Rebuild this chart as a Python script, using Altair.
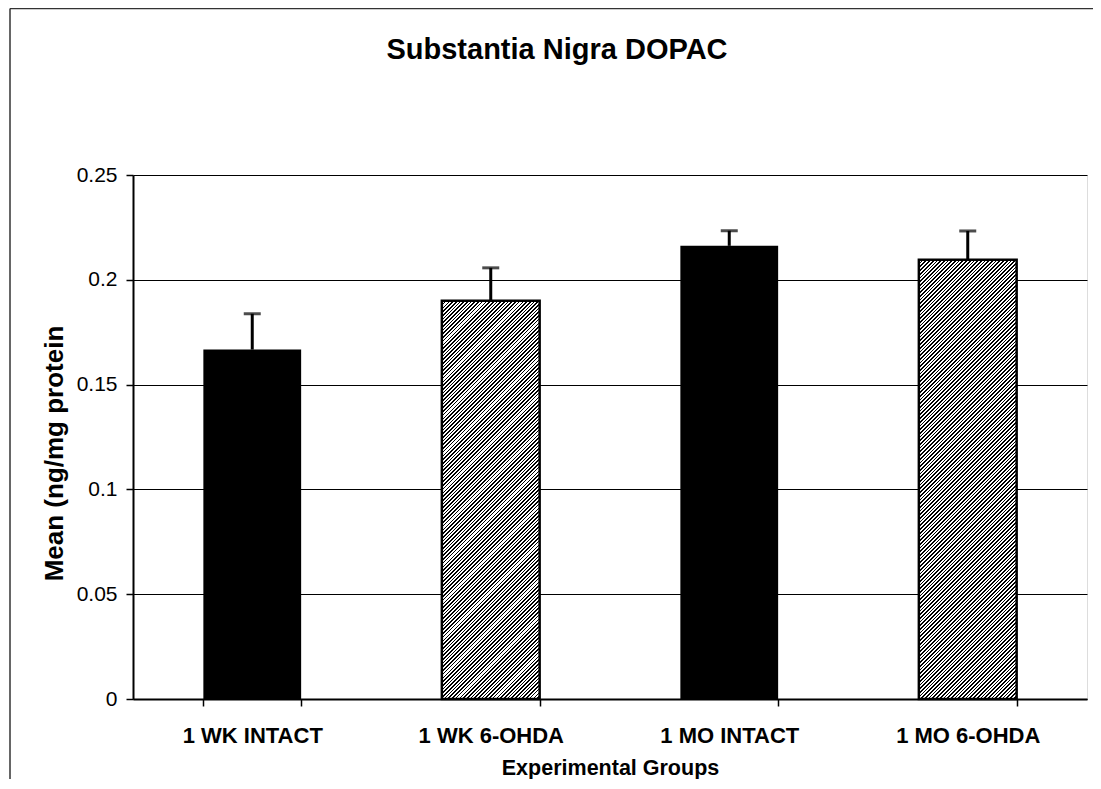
import math
import altair as alt
import pandas as pd

# ---- data ----
groups = ["1 WK INTACT", "1 WK 6-OHDA", "1 MO INTACT", "1 MO 6-OHDA"]
treatment = ["INTACT", "6-OHDA", "INTACT", "6-OHDA"]
means = [0.1667, 0.1900, 0.2162, 0.2096]
upper = [0.1838, 0.2057, 0.2234, 0.2233]
y_ticks = [0, 0.05, 0.1, 0.15, 0.2, 0.25]

df = pd.DataFrame({"group": groups, "treatment": treatment, "mean": means, "upper": upper})

# ---- layout ----
W, H = 954, 524
Y_MAX = 0.25
PAD_INNER = 0.59
FONT = "Liberation Sans"
band_px = W / len(groups) * (1 - PAD_INNER)


def hatch(h_px, w_px, period=3.7, ink=0.45):
    """Diagonal '/' hatch approximated by a striped linear gradient."""
    k = h_px / w_px
    s = (1 + k) / (1 + k * k)
    n = (w_px + h_px) / period
    stops = []
    i = 0
    while i / n < 1:
        a = i / n
        b = min((i + ink) / n, 1)
        c = min((i + 1) / n, 1)
        stops += [alt.GradientStop(color="#000000", offset=a),
                  alt.GradientStop(color="#000000", offset=b),
                  alt.GradientStop(color="#ffffff", offset=b),
                  alt.GradientStop(color="#ffffff", offset=c)]
        i += 1
    return alt.LinearGradient(gradient="linear", stops=stops, x1=0, y1=0, x2=s, y2=s * k)


x_enc = alt.X(
    "group:N", sort=groups, title="Experimental Groups",
    scale=alt.Scale(paddingInner=PAD_INNER, paddingOuter=PAD_INNER / 2),
    axis=alt.Axis(labelAngle=0, tickBand="extent", grid=False,
                  labelFont=FONT, labelFontSize=22, labelFontWeight="bold", labelColor="black",
                  labelBaseline="alphabetic", labelPadding=36,
                  tickSize=7, tickColor="black", tickWidth=1.5,
                  domainColor="black", domainWidth=2,
                  titleFont=FONT, titleFontSize=21.5, titleFontWeight="bold", titleColor="black",
                  titleBaseline="alphabetic", titleX=W / 2, titleY=75, titleAlign="center"),
)
y_enc = alt.Y(
    "mean:Q", scale=alt.Scale(domain=[0, Y_MAX], nice=False, zero=True),
    title="Mean (ng/mg protein",
    axis=alt.Axis(values=y_ticks, format="~g", grid=True, gridColor="black", gridWidth=1,
                  labelFont=FONT, labelFontSize=21, labelColor="black", labelPadding=9,
                  tickSize=7, tickColor="black", tickWidth=1.5,
                  domainColor="black", domainWidth=2,
                  titleFont=FONT, titleFontSize=26, titleFontWeight="bold", titleColor="black",
                  titleAngle=270, titleBaseline="alphabetic", titleAlign="center",
                  titleX=-71, titleY=278),
)

base = alt.Chart(df)

black_bars = base.mark_bar(color="black").encode(x=x_enc, y=y_enc).transform_filter(
    alt.datum.treatment == "INTACT")

hatched = []
for g, t, m in zip(groups, treatment, means):
    if t != "6-OHDA":
        continue
    h_px = m / Y_MAX * H
    hatched.append(
        base.mark_bar(fill=hatch(h_px, band_px), stroke="black", strokeWidth=2.5)
        .encode(x=x_enc, y=y_enc)
        .transform_filter(alt.datum.group == g)
    )

stems = base.mark_rule(color="black", strokeWidth=3).encode(
    x=alt.X("group:N", sort=groups), y="mean:Q", y2="upper:Q")
caps = base.mark_tick(color="black", size=17, thickness=3).encode(
    x=alt.X("group:N", sort=groups), y="upper:Q")

one = pd.DataFrame({"k": [0]})
frame_left = alt.Chart(one).mark_rule(color="#333333", strokeWidth=1.5).encode(
    x=alt.value(-123), y=alt.value(-166.5), y2=alt.value(H + 90))
frame_top = alt.Chart(one).mark_rule(color="#333333", strokeWidth=1.5).encode(
    x=alt.value(-123), x2=alt.value(W + 20), y=alt.value(-166.5))
title = alt.Chart(one).mark_text(
    text="Substantia Nigra DOPAC", font=FONT, fontSize=29, fontWeight="bold",
    align="center", baseline="alphabetic", color="black").encode(
    x=alt.value(424), y=alt.value(-116.5))

chart = alt.layer(black_bars, *hatched, stems, caps, frame_left, frame_top, title).properties(
    width=W, height=H,
    padding={"left": 125, "top": 167, "right": 6, "bottom": 80},
    autosize=alt.AutoSizeParams(type="none"),
).configure_view(stroke="black", strokeWidth=1.5).configure(background="white")

chart.save("out.html", embed_options={"renderer": "svg", "actions": False})
